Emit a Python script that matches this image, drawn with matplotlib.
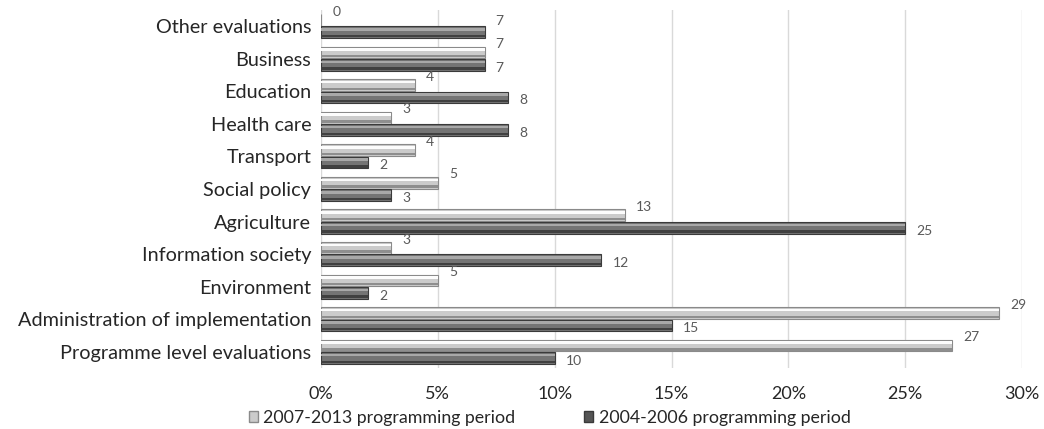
import numpy as np
import matplotlib.pyplot as plt

categories = ["Programme level evaluations", "Administration of implementation",
              "Environment", "Information society", "Agriculture", "Social policy",
              "Transport", "Health care", "Education", "Business", "Other evaluations"]
period_2007 = [27, 29, 5, 3, 13, 5, 4, 3, 4, 7, 0]
period_2004 = [10, 15, 2, 12, 25, 3, 2, 8, 8, 7, 7]
xticks = [0, 5, 10, 15, 20, 25, 30]

plt.rcParams['font.family'] = ['Lato', 'DejaVu Sans']

fig = plt.figure(figsize=(10.44, 4.29), dpi=100)
ax = fig.add_axes([0.3075, 0.142, 0.6715, 0.835])

y = np.arange(len(categories))
h = 0.36
off = 0.19

def bevel_bar(ypos, vals, base, edge, light, dark):
    ax.barh(ypos, vals, height=h, color=base, edgecolor=edge, linewidth=0.8, zorder=3)
    # highlight band along the top and shade along the bottom
    ax.barh(ypos + h * 0.25, vals, height=h * 0.22, color=light, linewidth=0, zorder=4)
    ax.barh(ypos - h * 0.32, vals, height=h * 0.2, color=dark, linewidth=0, zorder=4)

bevel_bar(y + off, period_2007, "#cbcbcb", "#8a8a8a", "#fcfcfc", "#8e8e8e")
bevel_bar(y - off, period_2004, "#747474", "#3a3a3a", "#a8a8a8", "#404040")

for yi, v in zip(y, period_2007):
    ax.annotate(str(v), (v, yi + off), xytext=(8, 6), textcoords="offset points",
                fontsize=10, color="#595959", va="center", ha="left")
for i, (yi, v) in enumerate(zip(y, period_2004)):
    # top row has no 2007 bar, so its label sits above the bar instead
    dy = 8 if i == len(y) - 1 else -2
    ax.annotate(str(v), (v, yi - off), xytext=(8, dy), textcoords="offset points",
                fontsize=10, color="#595959", va="center", ha="left")

ax.set_xlim(0, 30)
ax.set_ylim(-0.5, len(categories) - 0.5)
ax.set_xticks(xticks)
ax.set_xticklabels([f"{t}%" for t in xticks], fontsize=13, color="#262626")
ax.set_yticks(y)
ax.set_yticklabels(categories, fontsize=14.3, color="#262626")
ax.tick_params(length=0, pad=7)
ax.tick_params(axis="x", pad=13)
ax.grid(axis="x", color="#d9d9d9", linewidth=1, zorder=0)
for s in ax.spines.values():
    s.set_visible(False)

handles = [plt.Rectangle((0, 0), 1, 1, fc="#cbcbcb", ec="#8a8a8a"),
           plt.Rectangle((0, 0), 1, 1, fc="#555555", ec="#3a3a3a")]
fig.legend(handles, ["2007-2013 programming period", "2004-2006 programming period"],
           loc="lower left", bbox_to_anchor=(0.223, -0.03), ncol=2, frameon=False,
           fontsize=12.8, handlelength=0.5, handleheight=0.5, handletextpad=0.3,
           columnspacing=3.9, labelcolor="#262626")

fig.savefig("out.png", dpi=100)
